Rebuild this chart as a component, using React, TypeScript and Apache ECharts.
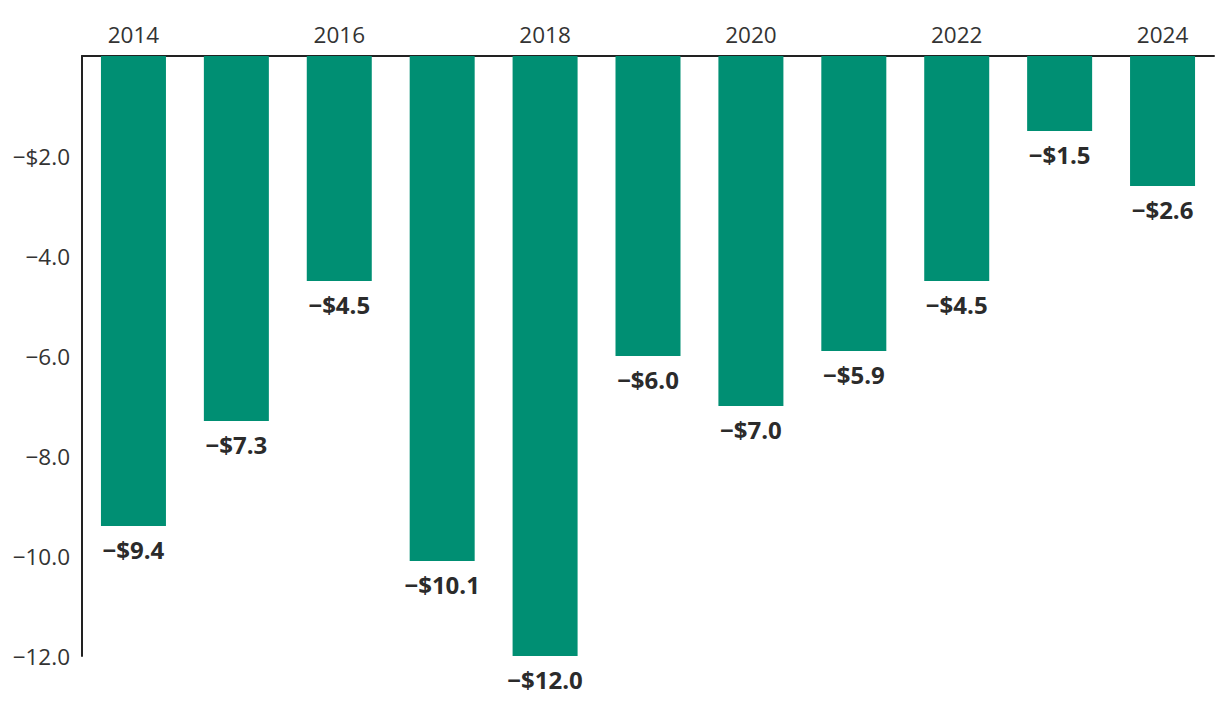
import React, { useEffect, useRef } from "react";
import * as echarts from "echarts";

const years = ["2014", "2015", "2016", "2017", "2018", "2019", "2020", "2021", "2022", "2023", "2024"];
const values = [-9.4, -7.3, -4.5, -10.1, -12.0, -6.0, -7.0, -5.9, -4.5, -1.5, -2.6];
const yMin = -12;
const yMax = 0;
const yStep = 2;

const fmtY = (v: number) => {
  if (v === 0) return "";
  const s = Math.abs(v).toFixed(1);
  return v === -2 ? "\u2212$" + s : "\u2212" + s;
};

export default function App() {
  const ref = useRef<HTMLDivElement>(null);
  useEffect(() => {
    const chart = echarts.init(ref.current!, undefined, { renderer: "svg" });
    chart.setOption({
      animation: false,
      textStyle: { fontFamily: "Open Sans" },
      grid: { left: 82, right: 6, top: 56, bottom: 62 },
      xAxis: {
        type: "category",
        position: "top",
        data: years,
        axisLine: { show: true, lineStyle: { color: "#222", width: 2 } },
        axisTick: { show: false },
        axisLabel: { interval: 1, color: "#333", fontSize: 22.5, margin: 10, fontFamily: "Open Sans" },
      },
      yAxis: {
        type: "value",
        min: yMin,
        max: yMax,
        interval: yStep,
        axisLine: { show: true, lineStyle: { color: "#222", width: 2 } },
        axisTick: { show: false },
        splitLine: { show: false },
        axisLabel: { color: "#333", fontSize: 22.5, margin: 12, formatter: fmtY, fontFamily: "Open Sans" },
      },
      series: [
        {
          type: "bar",
          data: values,
          barWidth: 65,
          itemStyle: { color: "#008f73" },
          label: {
            show: true,
            position: "bottom",
            distance: 11,
            color: "#2b2b2b",
            fontSize: 24,
            fontWeight: "bold",
            fontFamily: "Open Sans",
            formatter: (p: any) => "\u2212$" + Math.abs(p.value).toFixed(1),
          },
        },
      ],
    });
    return () => chart.dispose();
  }, []);
  return <div ref={ref} style={{ position: "absolute", left: 0, top: 0, width: 1220, height: 718 }} />;
}
